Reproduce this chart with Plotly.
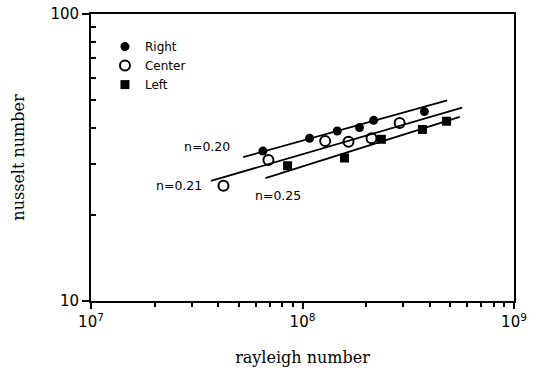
import numpy as np
import plotly.graph_objects as go

# Data
right_x = [6.5e7, 1.08e8, 1.46e8, 1.86e8, 2.17e8, 3.77e8]
right_y = [33.3, 36.9, 39.1, 40.2, 42.6, 45.7]
center_x = [4.23e7, 6.9e7, 1.28e8, 1.65e8, 2.12e8, 2.88e8]
center_y = [25.2, 31.0, 36.1, 35.9, 36.9, 41.7]
left_x = [8.5e7, 1.58e8, 2.36e8, 3.69e8, 4.8e8]
left_y = [29.6, 31.5, 36.6, 39.6, 42.3]

# fitted lines (end points)
fit_labels = ["n=0.20", "n=0.21", "n=0.25"]
fit_x0 = [5.24e7, 3.69e7, 6.68e7]
fit_y0 = [31.7, 26.2, 26.8]
fit_x1 = [4.83e8, 5.69e8, 5.54e8]
fit_y1 = [50.0, 47.2, 43.8]

x_tickvals = [1e7, 1e8, 1e9]
x_ticktext = ["10<sup>7</sup>", "10<sup>8</sup>", "10<sup>9</sup>"]
x_minor = [2e7, 3e7, 4e7, 5e7, 6e7, 7e7, 8e7, 9e7, 2e8, 3e8, 4e8, 5e8, 6e8, 7e8, 8e8, 9e8]
y_tickvals = [10, 100]
y_ticktext = ["10", "100"]
y_minor = [20, 30, 40, 50, 60, 70, 80, 90]

fig = go.Figure()
for i in range(3):
    fig.add_trace(go.Scatter(x=[fit_x0[i], fit_x1[i]], y=[fit_y0[i], fit_y1[i]],
                             mode="lines", line=dict(color="black", width=1.8),
                             showlegend=False, hoverinfo="skip"))

fig.add_trace(go.Scatter(x=right_x, y=right_y, mode="markers", name="Right",
                         marker=dict(symbol="circle", size=9, color="black")))
fig.add_trace(go.Scatter(x=center_x, y=center_y, mode="markers", name="Center",
                         marker=dict(symbol="circle-open", size=10, color="black",
                                     line=dict(width=2, color="black"))))
fig.add_trace(go.Scatter(x=left_x, y=left_y, mode="markers", name="Left",
                         marker=dict(symbol="square", size=9, color="black")))

ann_pos = [(0.274, 0.540), (0.208, 0.404), (0.441, 0.369)]
for lbl, (px, py) in zip(fit_labels, ann_pos):
    fig.add_annotation(x=px, y=py, xref="paper", yref="paper", text=lbl,
                       xanchor="center", yanchor="middle",
                       showarrow=False, font=dict(family="DejaVu Sans", size=12.5, color="black"))

fig.update_layout(
    width=542, height=371,
    margin=dict(l=91, r=28, t=14, b=70),
    paper_bgcolor="white", plot_bgcolor="white",
    font=dict(family="DejaVu Sans", color="black"),
    legend=dict(x=0.033, y=0.937, xanchor="left", yanchor="top",
                font=dict(family="DejaVu Sans", size=12, color="black"),
                bgcolor="rgba(0,0,0,0)", tracegroupgap=0),
    xaxis=dict(type="log", range=[7, 9], showgrid=False, zeroline=False, automargin=False,
               showline=True, linecolor="black", linewidth=1.8, mirror=True,
               tickmode="array", tickvals=x_tickvals, ticktext=x_ticktext,
               ticks="outside", ticklen=6, tickwidth=1.5, tickcolor="black",
               tickfont=dict(family="DejaVu Sans", size=15, color="black"),
               minor=dict(ticks="outside", ticklen=4, tickwidth=1.5, tickcolor="black",
                          tickmode="array", tickvals=x_minor, showgrid=False),
               title=dict(text="rayleigh number", font=dict(family="DejaVu Serif", size=16, color="black"),
                          standoff=22)),
    yaxis=dict(type="log", range=[1, 2], showgrid=False, zeroline=False, automargin=False,
               showline=True, linecolor="black", linewidth=1.8, mirror=True,
               tickmode="array", tickvals=y_tickvals, ticktext=y_ticktext,
               ticks="outside", ticklen=7, tickwidth=1.5, tickcolor="black",
               tickfont=dict(family="DejaVu Sans", size=15, color="black"),
               minor=dict(ticks="inside", ticklen=5, tickwidth=1.5, tickcolor="black",
                          tickmode="array", tickvals=y_minor, showgrid=False),
               title=dict(text="nusselt number", font=dict(family="DejaVu Serif", size=16, color="black"),
                          standoff=22)),
)

fig.write_html("out.html")
